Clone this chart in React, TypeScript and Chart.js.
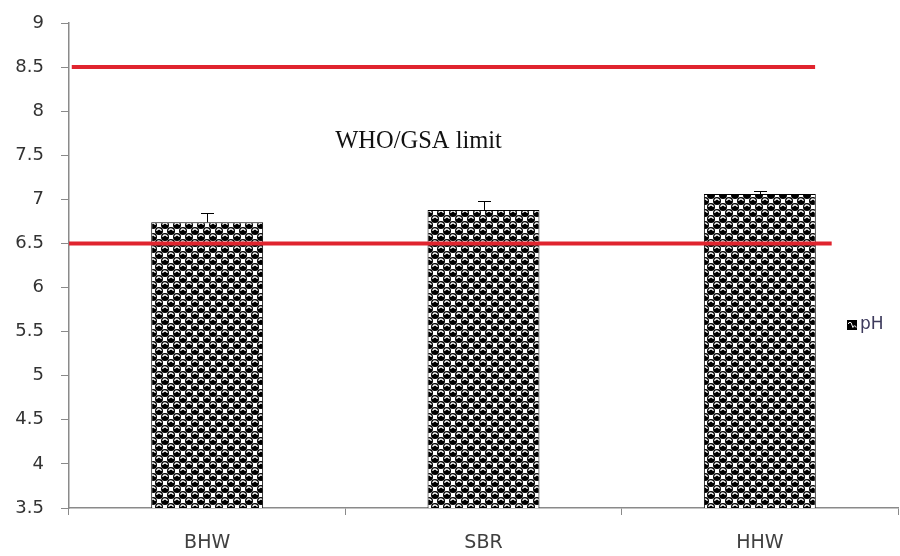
import React, { useEffect, useRef } from 'react';
import { Chart, registerables } from 'chart.js';

Chart.register(...registerables);

const categories = ['BHW', 'SBR', 'HHW'];
const phValues = [6.74, 6.88, 7.06];
const phErrors = [0.11, 0.1, 0.035];
const limitValues = [8.5, 6.5];
const limitFrom = [-0.49, -0.5];
const limitTo = [2.2, 2.26];
const limitLabel = 'WHO/GSA limit';
const limitLabelPos = [0.765, 7.65];
const seriesLabel = 'pH';
const yMin = 3.5;
const yMax = 9;
const yStep = 0.5;

function makePattern(): CanvasPattern | string {
  const c = document.createElement('canvas');
  c.width = 12;
  c.height = 12;
  const g = c.getContext('2d');
  if (!g) return '#000';
  g.fillStyle = '#fff';
  g.fillRect(0, 0, 12, 12);
  const centers: number[][] = [];
  for (const ox of [-12, 0, 12]) for (const oy of [-12, 0, 12]) {
    centers.push([3 + ox, 3 + oy]);
    centers.push([9 + ox, 9 + oy]);
  }
  g.fillStyle = '#000';
  for (const [cx, cy] of centers) {
    g.beginPath();
    g.arc(cx, cy, 4.0, 0, Math.PI * 2);
    g.fill();
  }
  g.strokeStyle = '#fff';
  g.lineWidth = 1.3;
  for (const [cx, cy] of centers) {
    g.beginPath();
    g.arc(cx, cy + 0.6, 2.5, Math.PI * 1.1, Math.PI * 1.9);
    g.stroke();
  }
  return g.createPattern(c, 'repeat') || '#000';
}

export default function App() {
  const ref = useRef<HTMLCanvasElement>(null);

  useEffect(() => {
    if (!ref.current) return;
    const pattern = makePattern();

    const overlay = {
      id: 'overlay',
      afterDatasetsDraw(chart: any) {
        const ctx = chart.ctx;
        const xs = chart.scales.x;
        const ys = chart.scales.y;
        const meta = chart.getDatasetMeta(0);
        ctx.save();
        // error bars
        ctx.strokeStyle = '#000';
        ctx.lineWidth = 1;
        meta.data.forEach((bar: any, i: number) => {
          const x = Math.round(bar.x) + 0.5;
          const yb = ys.getPixelForValue(phValues[i]);
          const yt = Math.round(ys.getPixelForValue(phValues[i] + phErrors[i])) + 0.5;
          ctx.beginPath();
          ctx.moveTo(x, yb);
          ctx.lineTo(x, yt);
          ctx.moveTo(x - 6.5, yt);
          ctx.lineTo(x + 6.5, yt);
          ctx.stroke();
        });
        // limit lines
        ctx.strokeStyle = '#e0242e';
        ctx.lineWidth = 4;
        limitValues.forEach((v, i) => {
          const y = ys.getPixelForValue(v);
          ctx.beginPath();
          ctx.moveTo(xs.getPixelForValue(limitFrom[i]), y);
          ctx.lineTo(xs.getPixelForValue(limitTo[i]), y);
          ctx.stroke();
        });
        // label
        ctx.fillStyle = '#111';
        ctx.font = '24.5px "Liberation Serif", "Times New Roman", serif';
        ctx.textAlign = 'center';
        ctx.textBaseline = 'middle';
        ctx.fillText(limitLabel, xs.getPixelForValue(limitLabelPos[0]), ys.getPixelForValue(limitLabelPos[1]));
        // legend
        const lx = chart.width - 53;
        const ly = chart.height / 2 + 47;
        ctx.fillStyle = '#000';
        ctx.fillRect(lx, ly - 5, 10, 10);
        ctx.strokeStyle = '#fff';
        ctx.lineWidth = 1;
        ctx.beginPath();
        ctx.arc(lx + 3, ly - 1, 1.6, Math.PI, Math.PI * 2);
        ctx.arc(lx + 7.5, ly + 2.5, 1.6, Math.PI, Math.PI * 2);
        ctx.stroke();
        ctx.fillStyle = '#3d3a5c';
        ctx.font = '17px "DejaVu Sans", sans-serif';
        ctx.textAlign = 'left';
        ctx.fillText(seriesLabel, lx + 13, ly);
        ctx.restore();
      },
    };

    const chart = new Chart(ref.current, {
      type: 'bar',
      data: {
        labels: categories,
        datasets: [
          {
            label: seriesLabel,
            data: phValues,
            backgroundColor: pattern as any,
            borderColor: '#000',
            borderWidth: 1,
            barPercentage: 0.405,
            categoryPercentage: 1,
          },
        ],
      },
      options: {
        responsive: false,
        animation: false,
        layout: { padding: { top: 23, right: 2, left: 0, bottom: 0 } },
        plugins: { legend: { display: false }, tooltip: { enabled: false } },
        scales: {
          x: {
            grid: { display: true, drawOnChartArea: false, drawTicks: true, tickLength: 7, color: '#8a8a8a', offset: true },
            border: { display: true, color: '#8a8a8a', width: 1.5 },
            ticks: { color: '#404040', font: { family: '"DejaVu Sans", sans-serif', size: 19 }, padding: 17 },
            afterFit: (s: any) => { s.height = 48; },
          },
          y: {
            min: yMin,
            max: yMax,
            grid: { display: true, drawOnChartArea: false, drawTicks: true, tickLength: 8, color: '#8a8a8a' },
            border: { display: true, color: '#8a8a8a', width: 1.5 },
            ticks: {
              stepSize: yStep,
              color: '#333',
              font: { family: '"DejaVu Sans", sans-serif', size: 18 },
              padding: 17,
              callback: (v: any) => String(Number(v)),
            },
            afterFit: (s: any) => { s.width = 69; s.paddingTop = 0; s.paddingBottom = 0; },
          },
        },
      },
      plugins: [overlay],
    });
    return () => chart.destroy();
  }, []);

  return (
    <div style={{ position: 'absolute', left: 0, top: 0, width: 900, height: 556, background: '#fff' }}>
      <canvas ref={ref} width={900} height={556} />
    </div>
  );
}
